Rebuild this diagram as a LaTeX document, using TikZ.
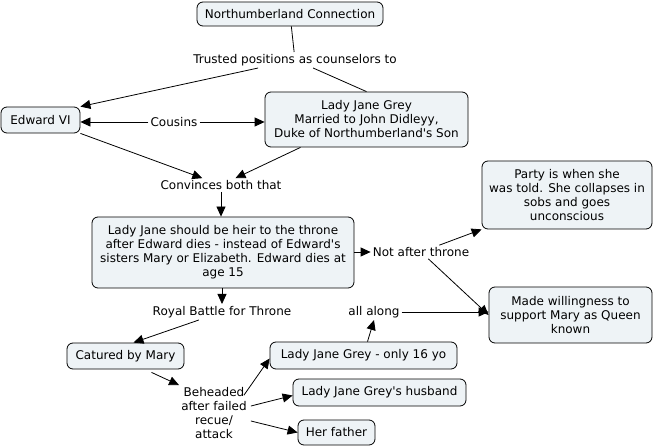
\documentclass[tikz,border=0pt]{standalone}
\usepackage{fontspec}
\setmainfont{DejaVu Sans}
\usetikzlibrary{arrows.meta,calc}
\definecolor{boxfill}{RGB}{238,243,246}
\begin{document}
\begin{tikzpicture}[x=1pt,y=-1pt,
  every node/.style={font=\fontsize{12}{14}\selectfont, align=center},
  concept/.style={draw=black, line width=0.8pt, fill=boxfill, rounded corners=6pt, inner sep=2pt},
  lbl/.style={inner sep=2pt},
  conn/.style={line width=0.8pt, draw=black},
  arr/.style={conn, -{Triangle[length=10pt,width=9pt]}}
]
\path[use as bounding box] (0,0) rectangle (656,446);
% concepts
\node[concept, minimum width=186pt, minimum height=24pt] (nc) at (290,14) {Northumberland Connection};
\node[concept, minimum width=79pt, minimum height=26pt] (ed) at (40.5,120) {Edward VI};
\node[concept, minimum width=203pt, minimum height=55pt] (ljg) at (366.5,119.5) {Lady Jane Grey\\Married to John Didleyy,\\Duke of Northumberland\textquotesingle s Son};
\node[concept, minimum width=262pt, minimum height=71pt] (heir) at (223,252.5) {Lady Jane should be heir to the throne\\after Edward dies - instead of Edward\textquotesingle s\\sisters Mary or Elizabeth. Edward dies at\\age 15};
\node[concept, minimum width=170pt, minimum height=68pt] (party) at (567,195) {Party is when she\\was told. She collapses in\\sobs and goes\\unconscious};
\node[concept, minimum width=163pt, minimum height=56pt] (made) at (570.5,315) {Made willingness to\\support Mary as Queen\\known};
\node[concept, minimum width=117pt, minimum height=26pt] (cat) at (125.5,356) {Catured by Mary};
\node[concept, minimum width=187pt, minimum height=27pt] (l16) at (363.5,355.5) {Lady Jane Grey - only 16 yo};
\node[concept, minimum width=173pt, minimum height=27pt] (hus) at (379.5,392.5) {Lady Jane Grey\textquotesingle s husband};
\node[concept, minimum width=77pt, minimum height=25pt] (fat) at (336.5,432.5) {Her father};
% linking phrases
\node[lbl] (trusted) at (295,60) {Trusted positions as counselors to};
\node[lbl] (cousins) at (174,122) {Cousins};
\node[lbl] (conv) at (221,185) {Convinces both that};
\node[lbl] (nat) at (421,252) {Not after throne};
\node[lbl] (royal) at (222,312) {Royal Battle for Throne};
\node[lbl] (along) at (374,312) {all along};
\node[lbl] (beh) at (214,413) {Beheaded\\after failed\\recue/\\attack};
% connectors
\draw[conn] (nc) -- (trusted);
\draw[arr] (trusted) -- (ed.north east);
\draw[conn] (trusted) -- (ljg.north);
\draw[arr] (cousins.west) -- (cousins.west -| ed.east);
\draw[arr] (cousins.east) -- (cousins.east -| ljg.west);
\draw[arr] (ed.south east) -- (conv);
\draw[arr] ($(ljg.south)+(-66,0)$) -- (conv);
\draw[arr] (conv) -- (conv |- heir.north);
\draw[arr] (heir.east |- nat) -- (nat.west);
\draw[arr] (nat) -- (party.south west);
\draw[arr] (nat) -- (made.west);
\draw[arr] (along.east) -- (along.east -| made.west);
\draw[arr] (royal.north |- heir.south) -- (royal.north);
\draw[arr] (royal) -- ($(cat.north)+(8,0)$);
\draw[arr] ($(cat.south)+(26,3)$) -- (beh.north west);
\draw[arr] ($(beh.north east)+(-5,10)$) -- ($(l16.west)+(0,3)$);
\draw[arr] ($(beh.east)+(2,-7)$) -- ($(hus.west)+(0,3)$);
\draw[arr] ($(beh.east)+(2,8)$) -- (fat.west);
\draw[arr] ($(l16.north)+(4,0)$) -- (along.south);
\end{tikzpicture}
\end{document}
